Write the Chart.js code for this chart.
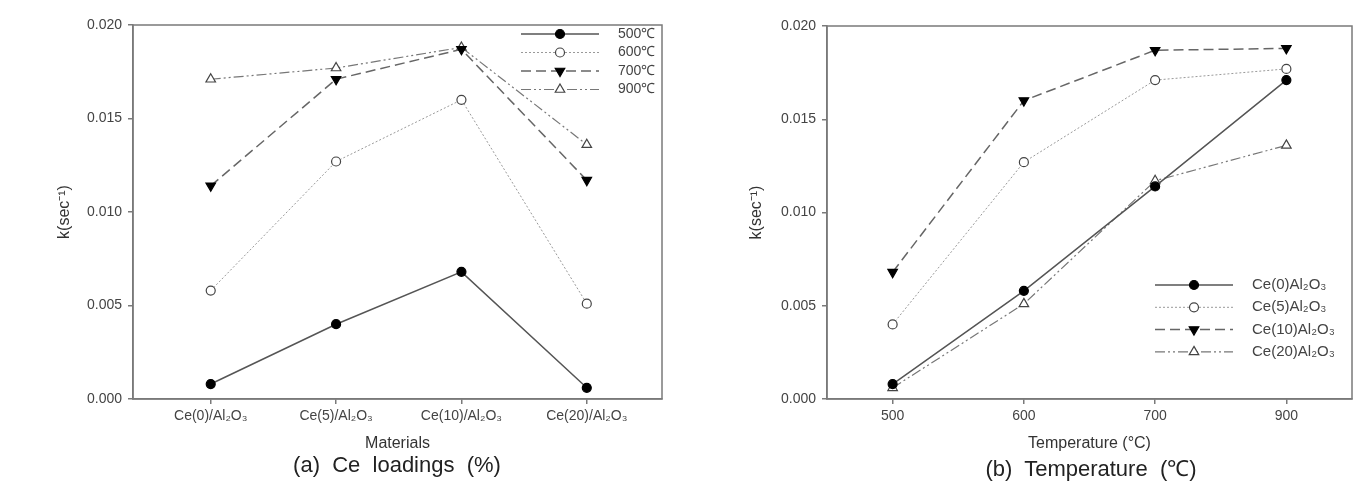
<!DOCTYPE html>
<html>
<head>
<meta charset="utf-8">
<script src="https://cdn.jsdelivr.net/npm/chart.js@4.4.1/dist/chart.umd.min.js"></script>
<style>
  body { margin: 0; background: #fff; width: 1368px; height: 498px; position: relative; overflow: hidden;
         font-family: "Liberation Sans", Arial, sans-serif; }
  canvas { position: absolute; top: 0; }
  #c1 { left: 0; }
  #c2 { left: 684px; }
  .cap { position: absolute; top: 452px; font-size: 22px; color: #222; white-space: pre; transform: translateX(-50%); }
</style>
</head>
<body>
<canvas id="c1" width="684" height="498"></canvas>
<canvas id="c2" width="684" height="498"></canvas>
<div class="cap" style="left:397px">(a)  Ce  loadings  (%)</div>
<div class="cap" style="left:1091px">(b)  Temperature  (℃)</div>
<script>
// categories
const materials = ['Ce(0)/Al₂O₃', 'Ce(5)/Al₂O₃', 'Ce(10)/Al₂O₃', 'Ce(20)/Al₂O₃'];
const materialNames = ['Ce(0)Al₂O₃', 'Ce(5)Al₂O₃', 'Ce(10)Al₂O₃', 'Ce(20)Al₂O₃'];
const temps = ['500', '600', '700', '900'];
const tempNames = ['500℃', '600℃', '700℃', '900℃'];
const yTicks = [0, 0.005, 0.010, 0.015, 0.020];

// k (sec-1) per temperature, one value per material
const k500 = [0.0008, 0.0040, 0.0068, 0.0006];
const k600 = [0.0058, 0.0127, 0.0160, 0.0051];
const k700 = [0.0114, 0.0171, 0.0187, 0.0117];
const k900 = [0.0171, 0.0177, 0.0188, 0.0136];
const kByTemp = [k500, k600, k700, k900];
// same data read the other way round for panel (b)
const kByMaterial = materials.map((m, i) => kByTemp.map(arr => arr[i]));

const FONT = '"Liberation Sans", Arial, sans-serif';
const AXIS = '#7a7a7a';

// line / marker style of series 1..4 (same in both panels)
const styles = [
  { borderColor: '#555', borderWidth: 1.5, borderDash: [], pointStyle: 'circle', rotation: 0, radius: 4.5, fill: '#000', stroke: '#000' },
  { borderColor: '#999', borderWidth: 1, borderDash: [2, 2], pointStyle: 'circle', rotation: 0, radius: 4.5, fill: '#fff', stroke: '#444' },
  { borderColor: '#666', borderWidth: 1.5, borderDash: [10, 5], pointStyle: 'triangle', rotation: 180, radius: 5.5, fill: '#000', stroke: '#000' },
  { borderColor: '#777', borderWidth: 1.2, borderDash: [10, 3, 2, 3, 2, 3], pointStyle: 'triangle', rotation: 0, radius: 5.5, fill: '#fff', stroke: '#444' }
];

function makeDataset(label, data, st) {
  return {
    label: label,
    data: data,
    borderColor: st.borderColor,
    borderWidth: st.borderWidth,
    borderDash: st.borderDash,
    pointStyle: st.pointStyle,
    rotation: st.rotation,
    pointRadius: st.radius,
    pointBorderWidth: 1.2,
    pointBackgroundColor: st.fill,
    pointBorderColor: st.stroke,
    tension: 0,
    fill: false
  };
}

// box around the plot area
const framePlugin = {
  id: 'frame',
  afterDraw(chart) {
    const a = chart.chartArea, ctx = chart.ctx;
    ctx.save();
    ctx.strokeStyle = AXIS;
    ctx.lineWidth = 1.5;
    ctx.strokeRect(a.left, a.top, a.right - a.left, a.bottom - a.top);
    ctx.restore();
  }
};

// legend with the line sample and marker in the middle, like SigmaPlot
const lineLegend = {
  id: 'lineLegend',
  afterDraw(chart, args, opts) {
    const ctx = chart.ctx;
    ctx.save();
    chart.data.datasets.forEach((ds, i) => {
      const y = opts.y0 + i * opts.dy;
      ctx.strokeStyle = ds.borderColor;
      ctx.lineWidth = ds.borderWidth;
      ctx.setLineDash(ds.borderDash);
      ctx.beginPath();
      ctx.moveTo(opts.x1, y);
      ctx.lineTo(opts.x2, y);
      ctx.stroke();
      ctx.setLineDash([]);
      ctx.fillStyle = ds.pointBackgroundColor;
      ctx.strokeStyle = ds.pointBorderColor;
      ctx.lineWidth = ds.pointBorderWidth;
      Chart.helpers.drawPoint(ctx, {
        pointStyle: ds.pointStyle, rotation: ds.rotation, radius: ds.pointRadius, borderWidth: ds.pointBorderWidth
      }, (opts.x1 + opts.x2) / 2, y);
      ctx.fillStyle = '#444';
      ctx.font = opts.size + 'px ' + FONT;
      ctx.textAlign = 'left';
      ctx.textBaseline = 'middle';
      ctx.fillText(ds.label, opts.xText, y);
    });
    ctx.restore();
  }
};

function yScale(width, titlePad) {
  return {
    min: 0, max: 0.02,
    afterBuildTicks: s => { s.ticks = yTicks.map(v => ({ value: v })); },
    afterFit: s => { s.width = width; },
    ticks: { color: '#444', font: { family: FONT, size: 14 }, padding: 6, callback: v => v.toFixed(3) },
    grid: { drawOnChartArea: false, drawTicks: true, tickLength: 5, color: AXIS, lineWidth: 1.5 },
    border: { display: true, color: AXIS, width: 1.5 },
    title: { display: true, text: 'k(sec⁻¹)', color: '#333', font: { family: FONT, size: 16 }, padding: { top: titlePad, bottom: 0 } }
  };
}

function baseOptions(xScale, yS, legendOpts, pad) {
  return {
    responsive: false,
    animation: false,
    devicePixelRatio: 1,
    layout: { padding: pad },
    scales: { x: xScale, y: yS },
    plugins: { legend: { display: false }, tooltip: { enabled: false }, lineLegend: legendOpts }
  };
}

const xGrid = { drawOnChartArea: false, drawTicks: true, tickLength: 5, color: AXIS, lineWidth: 1.5 };
const xBorder = { display: true, color: AXIS, width: 1.5 };

// (a) k versus material, one line per temperature
new Chart(document.getElementById('c1'), {
  type: 'line',
  data: {
    datasets: kByTemp.map((arr, i) => makeDataset(tempNames[i], arr.map((v, j) => ({ x: j, y: v })), styles[i]))
  },
  options: baseOptions({
    type: 'linear', min: -0.62, max: 3.6,
    afterBuildTicks: s => { s.ticks = materials.map((m, j) => ({ value: j })); },
    afterFit: s => { s.height = 56; },
    ticks: { color: '#444', font: { family: FONT, size: 14 }, padding: 4, maxRotation: 0, callback: v => materials[v] },
    grid: xGrid, border: xBorder,
    title: { display: true, text: 'Materials', color: '#333', font: { family: FONT, size: 16 }, padding: { top: 0, bottom: 2 } }
  }, yScale(133, 55), { x1: 521, x2: 599, xText: 618, y0: 34, dy: 18.5, size: 14 },
  { top: 25, right: 22, left: 0, bottom: 43 }),
  plugins: [framePlugin, lineLegend]
});

// (b) k versus temperature, one line per material
new Chart(document.getElementById('c2'), {
  type: 'line',
  data: {
    labels: temps,
    datasets: kByMaterial.map((arr, i) => makeDataset(materialNames[i], arr, styles[i]))
  },
  options: baseOptions({
    type: 'category', offset: true,
    afterFit: s => { s.height = 56; },
    ticks: { color: '#444', font: { family: FONT, size: 14 }, padding: 4, maxRotation: 0 },
    grid: Object.assign({}, xGrid, { offset: false }), border: xBorder,
    title: { display: true, text: 'Temperature (°C)', color: '#333', font: { family: FONT, size: 16 }, padding: { top: 0, bottom: 2 } }
  }, yScale(143, 63), { x1: 471, x2: 549, xText: 568, y0: 285, dy: 22.3, size: 15 },
  { top: 26, right: 16, left: 0, bottom: 43 }),
  plugins: [framePlugin, lineLegend]
});
</script>
</body>
</html>
